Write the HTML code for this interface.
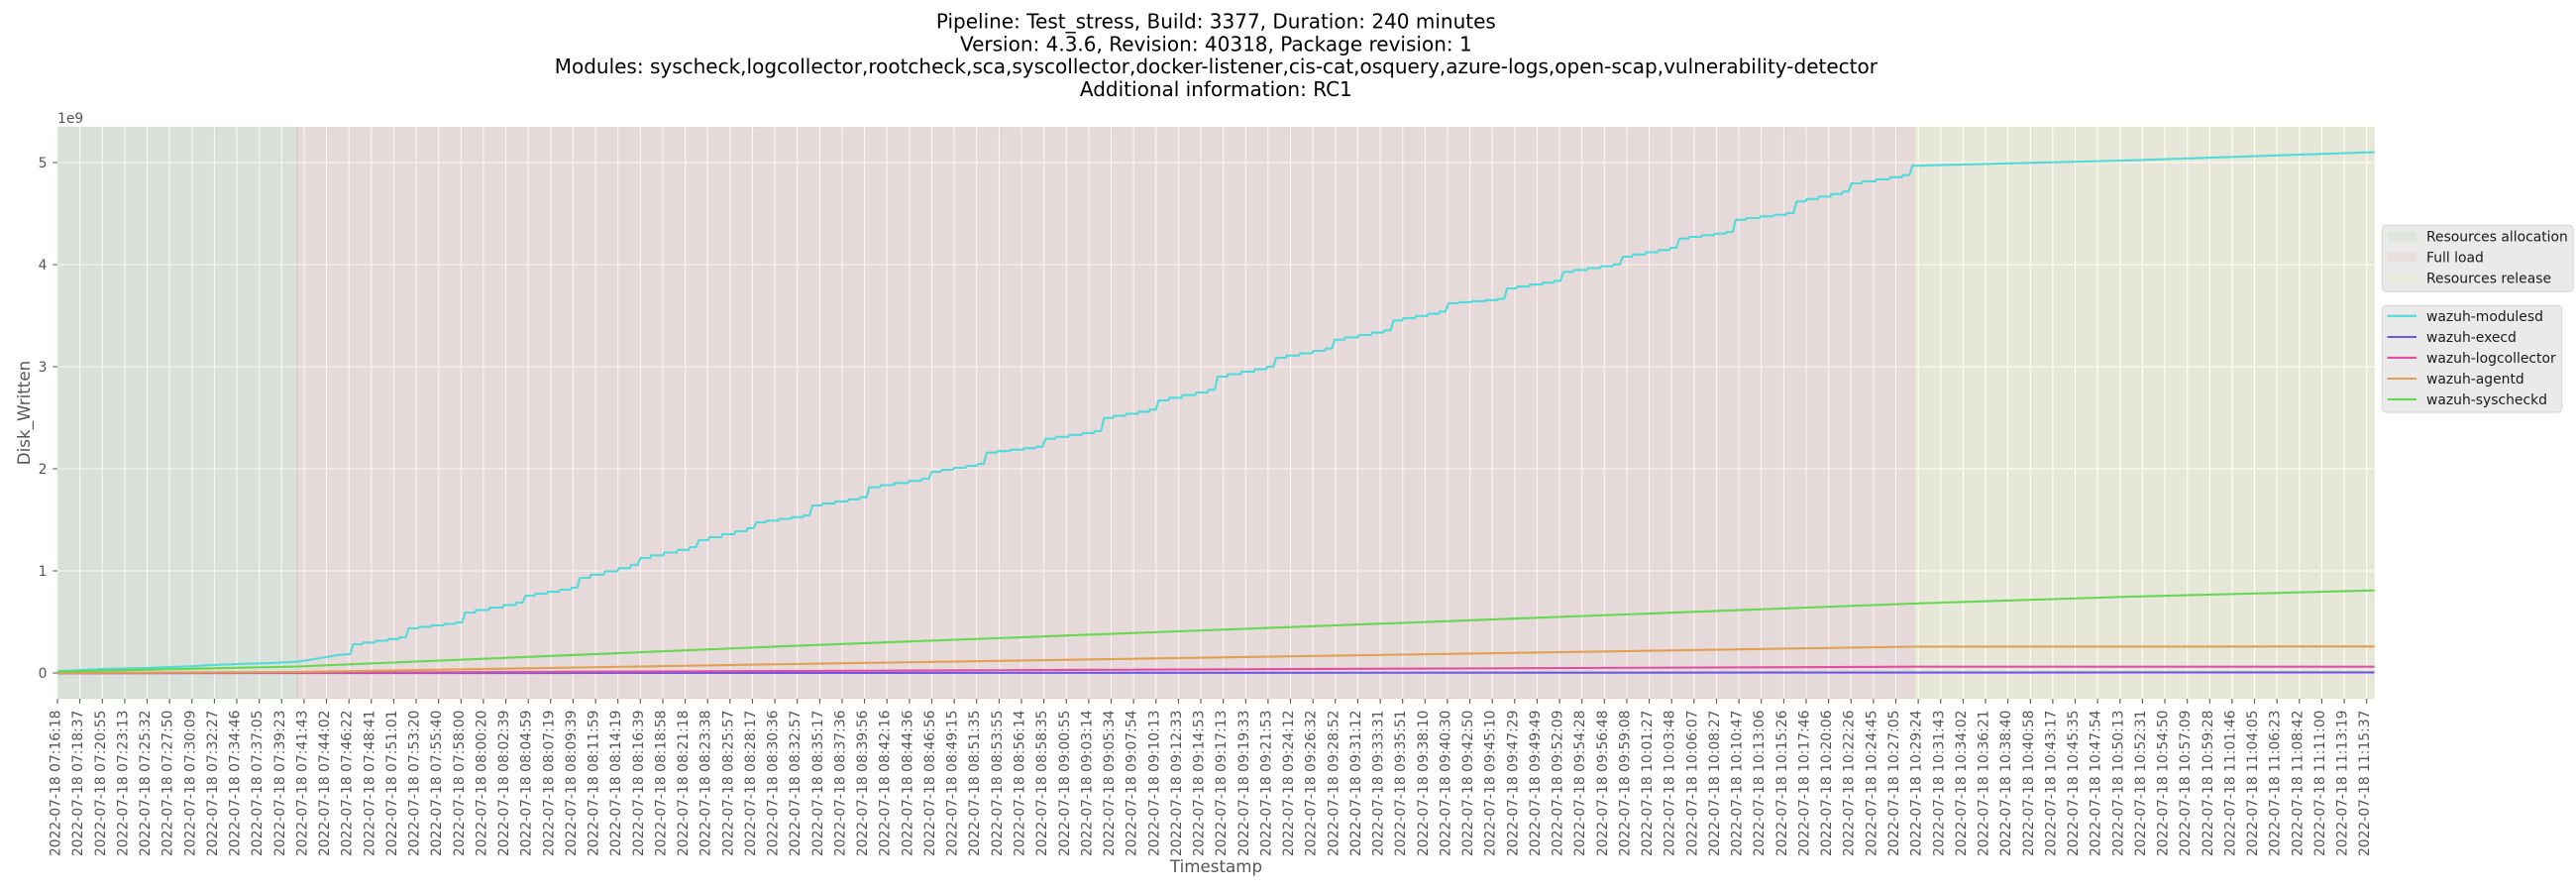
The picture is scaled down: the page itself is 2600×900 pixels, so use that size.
<!DOCTYPE html>
<html><head><meta charset="utf-8"><style>
html,body{margin:0;padding:0;background:#fff;}
svg{display:block;}
text{font-family:"DejaVu Sans","Liberation Sans",sans-serif;}
</style></head><body>
<svg width="2600" height="900" viewBox="0 0 2600 900" xmlns="http://www.w3.org/2000/svg">
<defs><clipPath id="pa"><rect x="58" y="128" width="2338.7" height="577"/></clipPath></defs>
<rect x="0" y="0" width="2600" height="900" fill="#fff"/>
<!-- title -->
<g font-size="20" fill="#000" text-anchor="middle">
<text x="1227.35" y="28.5">Pipeline: Test_stress, Build: 3377, Duration: 240 minutes</text>
<text x="1227.35" y="51.3">Version: 4.3.6, Revision: 40318, Package revision: 1</text>
<text x="1227.35" y="74.1">Modules: syscheck,logcollector,rootcheck,sca,syscollector,docker-listener,cis-cat,osquery,azure-logs,open-scap,vulnerability-detector</text>
<text x="1227.35" y="96.9">Additional information: RC1</text>
</g>
<!-- axes background -->
<rect x="58" y="128" width="2338.7" height="577" fill="#E5E5E5"/>
<!-- grid -->
<path stroke="#fff" stroke-width="1.1" fill="none" d="M58,128V705M80.6,128V705M103.3,128V705M125.9,128V705M148.5,128V705M171.1,128V705M193.8,128V705M216.4,128V705M239,128V705M261.7,128V705M284.3,128V705M306.9,128V705M329.5,128V705M352.2,128V705M374.8,128V705M397.4,128V705M420,128V705M442.7,128V705M465.3,128V705M487.9,128V705M510.6,128V705M533.2,128V705M555.8,128V705M578.4,128V705M601.1,128V705M623.7,128V705M646.3,128V705M669,128V705M691.6,128V705M714.2,128V705M736.8,128V705M759.5,128V705M782.1,128V705M804.7,128V705M827.4,128V705M850,128V705M872.6,128V705M895.2,128V705M917.9,128V705M940.5,128V705M963.1,128V705M985.7,128V705M1008.4,128V705M1031,128V705M1053.6,128V705M1076.3,128V705M1098.9,128V705M1121.5,128V705M1144.1,128V705M1166.8,128V705M1189.4,128V705M1212,128V705M1234.7,128V705M1257.3,128V705M1279.9,128V705M1302.5,128V705M1325.2,128V705M1347.8,128V705M1370.4,128V705M1393.1,128V705M1415.7,128V705M1438.3,128V705M1460.9,128V705M1483.6,128V705M1506.2,128V705M1528.8,128V705M1551.4,128V705M1574.1,128V705M1596.7,128V705M1619.3,128V705M1642,128V705M1664.6,128V705M1687.2,128V705M1709.8,128V705M1732.5,128V705M1755.1,128V705M1777.7,128V705M1800.4,128V705M1823,128V705M1845.6,128V705M1868.2,128V705M1890.9,128V705M1913.5,128V705M1936.1,128V705M1958.8,128V705M1981.4,128V705M2004,128V705M2026.6,128V705M2049.3,128V705M2071.9,128V705M2094.5,128V705M2117.1,128V705M2139.8,128V705M2162.4,128V705M2185,128V705M2207.7,128V705M2230.3,128V705M2252.9,128V705M2275.5,128V705M2298.2,128V705M2320.8,128V705M2343.4,128V705M2366.1,128V705M2388.7,128V705M58,679H2396.7M58,576H2396.7M58,473H2396.7M58,370H2396.7M58,267H2396.7M58,164H2396.7"/>
<!-- spans -->
<rect x="58" y="128" width="242.3" height="577" fill="#008000" fill-opacity="0.05" stroke="#008000" stroke-opacity="0.05" stroke-width="1"/>
<rect x="300.3" y="128" width="1631.4" height="577" fill="#FF0000" fill-opacity="0.05" stroke="#FF0000" stroke-opacity="0.05" stroke-width="1"/>
<rect x="1931.7" y="128" width="465" height="577" fill="#FFFF00" fill-opacity="0.05" stroke="#FFFF00" stroke-opacity="0.05" stroke-width="1"/>
<!-- series -->
<g clip-path="url(#pa)" fill="none" stroke-width="2.1" stroke-linejoin="round" stroke-linecap="butt">
<path id="mod" stroke="#50DADA" d="M58,677.3 L103,675 L146.7,674 L193,672.3 L213,671 L240,670 L273,669 L300,667.7 L313,665.7 L323,664 L335,662 L342,660.7 L353.5,660 L356.5,650 L409.5,643 L412.5,634 L466.5,628 L469.5,618 L527.5,608 L530.5,601 L582.5,593 L585.5,583 L643.5,570 L646.5,563 L702.5,552 L705.5,545 L760.5,533 L763.5,527 L817,520 L820,510 L874.5,501.7 L877.5,491.7 L937.5,483 L940.5,476 L993,468 L996,456.7 L1052.2,450.7 L1055.2,442.7 L1111.3,435 L1114.3,421.7 L1166.5,413.3 L1169.5,404 L1226,393.3 L1229,380 L1285.2,370 L1288.2,361 L1344.3,351.7 L1347.3,342.7 L1403.5,333.3 L1406.5,323.3 L1459,314.3 L1462,306 L1518.1,301.7 L1521.1,291 L1575.1,283.3 L1578.1,274.3 L1635,266.7 L1638,259 L1692,250 L1695,240.7 L1748.9,234 L1751.9,221.7 L1810.3,215 L1813.3,203.3 L1865.8,193.3 L1868.8,185 L1927.2,176.7 L1930.2,167.3 L2150,161.8 L2396.7,153.5"/>
<path stroke="#6C58E2" d="M58,679.2 L2396.7,678.4"/>
<path stroke="#E050A0" d="M58,679.2 L300,678.8 L800,677 L1930,672.7 L2396.7,672.7"/>
<path stroke="#E0A050" d="M58,679 L300,678 L800,670 L1930,652.5 L2396.7,652.3"/>
<path stroke="#64D850" d="M58,677.7 L300,672.5 L800,651.7 L1930,609 L2150,602 L2396.7,595.7"/>
</g>
<!-- y ticks -->
<path stroke="#555" stroke-width="1.1" d="M53.1,679H58M53.1,576H58M53.1,473H58M53.1,370H58M53.1,267H58M53.1,164H58"/>
<g font-size="13.9" fill="#555" text-anchor="end">
<text x="47.5" y="684">0</text>
<text x="47.5" y="581">1</text>
<text x="47.5" y="478">2</text>
<text x="47.5" y="375">3</text>
<text x="47.5" y="272">4</text>
<text x="47.5" y="169">5</text>
</g>
<text x="58" y="124" font-size="13.9" fill="#555">1e9</text>
<text transform="translate(30,416.5) rotate(-90)" font-size="16.7" fill="#555" text-anchor="middle">Disk_Written</text>
<text x="1227.5" y="880" font-size="16.7" fill="#555" text-anchor="middle">Timestamp</text>
<!-- x ticks -->
<path stroke="#555" stroke-width="1.1" d="M58,705V709.9M80.6,705V709.9M103.3,705V709.9M125.9,705V709.9M148.5,705V709.9M171.1,705V709.9M193.8,705V709.9M216.4,705V709.9M239,705V709.9M261.7,705V709.9M284.3,705V709.9M306.9,705V709.9M329.5,705V709.9M352.2,705V709.9M374.8,705V709.9M397.4,705V709.9M420,705V709.9M442.7,705V709.9M465.3,705V709.9M487.9,705V709.9M510.6,705V709.9M533.2,705V709.9M555.8,705V709.9M578.4,705V709.9M601.1,705V709.9M623.7,705V709.9M646.3,705V709.9M669,705V709.9M691.6,705V709.9M714.2,705V709.9M736.8,705V709.9M759.5,705V709.9M782.1,705V709.9M804.7,705V709.9M827.4,705V709.9M850,705V709.9M872.6,705V709.9M895.2,705V709.9M917.9,705V709.9M940.5,705V709.9M963.1,705V709.9M985.7,705V709.9M1008.4,705V709.9M1031,705V709.9M1053.6,705V709.9M1076.3,705V709.9M1098.9,705V709.9M1121.5,705V709.9M1144.1,705V709.9M1166.8,705V709.9M1189.4,705V709.9M1212,705V709.9M1234.7,705V709.9M1257.3,705V709.9M1279.9,705V709.9M1302.5,705V709.9M1325.2,705V709.9M1347.8,705V709.9M1370.4,705V709.9M1393.1,705V709.9M1415.7,705V709.9M1438.3,705V709.9M1460.9,705V709.9M1483.6,705V709.9M1506.2,705V709.9M1528.8,705V709.9M1551.4,705V709.9M1574.1,705V709.9M1596.7,705V709.9M1619.3,705V709.9M1642,705V709.9M1664.6,705V709.9M1687.2,705V709.9M1709.8,705V709.9M1732.5,705V709.9M1755.1,705V709.9M1777.7,705V709.9M1800.4,705V709.9M1823,705V709.9M1845.6,705V709.9M1868.2,705V709.9M1890.9,705V709.9M1913.5,705V709.9M1936.1,705V709.9M1958.8,705V709.9M1981.4,705V709.9M2004,705V709.9M2026.6,705V709.9M2049.3,705V709.9M2071.9,705V709.9M2094.5,705V709.9M2117.1,705V709.9M2139.8,705V709.9M2162.4,705V709.9M2185,705V709.9M2207.7,705V709.9M2230.3,705V709.9M2252.9,705V709.9M2275.5,705V709.9M2298.2,705V709.9M2320.8,705V709.9M2343.4,705V709.9M2366.1,705V709.9M2388.7,705V709.9"/>
<g font-size="13.9" fill="#555" text-anchor="end">
<text transform="translate(58,716.5) rotate(-90)" y="2.5">2022-07-18 07:16:18</text>
<text transform="translate(80.6,716.5) rotate(-90)" y="2.5">2022-07-18 07:18:37</text>
<text transform="translate(103.3,716.5) rotate(-90)" y="2.5">2022-07-18 07:20:55</text>
<text transform="translate(125.9,716.5) rotate(-90)" y="2.5">2022-07-18 07:23:13</text>
<text transform="translate(148.5,716.5) rotate(-90)" y="2.5">2022-07-18 07:25:32</text>
<text transform="translate(171.1,716.5) rotate(-90)" y="2.5">2022-07-18 07:27:50</text>
<text transform="translate(193.8,716.5) rotate(-90)" y="2.5">2022-07-18 07:30:09</text>
<text transform="translate(216.4,716.5) rotate(-90)" y="2.5">2022-07-18 07:32:27</text>
<text transform="translate(239,716.5) rotate(-90)" y="2.5">2022-07-18 07:34:46</text>
<text transform="translate(261.7,716.5) rotate(-90)" y="2.5">2022-07-18 07:37:05</text>
<text transform="translate(284.3,716.5) rotate(-90)" y="2.5">2022-07-18 07:39:23</text>
<text transform="translate(306.9,716.5) rotate(-90)" y="2.5">2022-07-18 07:41:43</text>
<text transform="translate(329.5,716.5) rotate(-90)" y="2.5">2022-07-18 07:44:02</text>
<text transform="translate(352.2,716.5) rotate(-90)" y="2.5">2022-07-18 07:46:22</text>
<text transform="translate(374.8,716.5) rotate(-90)" y="2.5">2022-07-18 07:48:41</text>
<text transform="translate(397.4,716.5) rotate(-90)" y="2.5">2022-07-18 07:51:01</text>
<text transform="translate(420,716.5) rotate(-90)" y="2.5">2022-07-18 07:53:20</text>
<text transform="translate(442.7,716.5) rotate(-90)" y="2.5">2022-07-18 07:55:40</text>
<text transform="translate(465.3,716.5) rotate(-90)" y="2.5">2022-07-18 07:58:00</text>
<text transform="translate(487.9,716.5) rotate(-90)" y="2.5">2022-07-18 08:00:20</text>
<text transform="translate(510.6,716.5) rotate(-90)" y="2.5">2022-07-18 08:02:39</text>
<text transform="translate(533.2,716.5) rotate(-90)" y="2.5">2022-07-18 08:04:59</text>
<text transform="translate(555.8,716.5) rotate(-90)" y="2.5">2022-07-18 08:07:19</text>
<text transform="translate(578.4,716.5) rotate(-90)" y="2.5">2022-07-18 08:09:39</text>
<text transform="translate(601.1,716.5) rotate(-90)" y="2.5">2022-07-18 08:11:59</text>
<text transform="translate(623.7,716.5) rotate(-90)" y="2.5">2022-07-18 08:14:19</text>
<text transform="translate(646.3,716.5) rotate(-90)" y="2.5">2022-07-18 08:16:39</text>
<text transform="translate(669,716.5) rotate(-90)" y="2.5">2022-07-18 08:18:58</text>
<text transform="translate(691.6,716.5) rotate(-90)" y="2.5">2022-07-18 08:21:18</text>
<text transform="translate(714.2,716.5) rotate(-90)" y="2.5">2022-07-18 08:23:38</text>
<text transform="translate(736.8,716.5) rotate(-90)" y="2.5">2022-07-18 08:25:57</text>
<text transform="translate(759.5,716.5) rotate(-90)" y="2.5">2022-07-18 08:28:17</text>
<text transform="translate(782.1,716.5) rotate(-90)" y="2.5">2022-07-18 08:30:36</text>
<text transform="translate(804.7,716.5) rotate(-90)" y="2.5">2022-07-18 08:32:57</text>
<text transform="translate(827.4,716.5) rotate(-90)" y="2.5">2022-07-18 08:35:17</text>
<text transform="translate(850,716.5) rotate(-90)" y="2.5">2022-07-18 08:37:36</text>
<text transform="translate(872.6,716.5) rotate(-90)" y="2.5">2022-07-18 08:39:56</text>
<text transform="translate(895.2,716.5) rotate(-90)" y="2.5">2022-07-18 08:42:16</text>
<text transform="translate(917.9,716.5) rotate(-90)" y="2.5">2022-07-18 08:44:36</text>
<text transform="translate(940.5,716.5) rotate(-90)" y="2.5">2022-07-18 08:46:56</text>
<text transform="translate(963.1,716.5) rotate(-90)" y="2.5">2022-07-18 08:49:15</text>
<text transform="translate(985.7,716.5) rotate(-90)" y="2.5">2022-07-18 08:51:35</text>
<text transform="translate(1008.4,716.5) rotate(-90)" y="2.5">2022-07-18 08:53:55</text>
<text transform="translate(1031,716.5) rotate(-90)" y="2.5">2022-07-18 08:56:14</text>
<text transform="translate(1053.6,716.5) rotate(-90)" y="2.5">2022-07-18 08:58:35</text>
<text transform="translate(1076.3,716.5) rotate(-90)" y="2.5">2022-07-18 09:00:55</text>
<text transform="translate(1098.9,716.5) rotate(-90)" y="2.5">2022-07-18 09:03:14</text>
<text transform="translate(1121.5,716.5) rotate(-90)" y="2.5">2022-07-18 09:05:34</text>
<text transform="translate(1144.1,716.5) rotate(-90)" y="2.5">2022-07-18 09:07:54</text>
<text transform="translate(1166.8,716.5) rotate(-90)" y="2.5">2022-07-18 09:10:13</text>
<text transform="translate(1189.4,716.5) rotate(-90)" y="2.5">2022-07-18 09:12:33</text>
<text transform="translate(1212,716.5) rotate(-90)" y="2.5">2022-07-18 09:14:53</text>
<text transform="translate(1234.7,716.5) rotate(-90)" y="2.5">2022-07-18 09:17:13</text>
<text transform="translate(1257.3,716.5) rotate(-90)" y="2.5">2022-07-18 09:19:33</text>
<text transform="translate(1279.9,716.5) rotate(-90)" y="2.5">2022-07-18 09:21:53</text>
<text transform="translate(1302.5,716.5) rotate(-90)" y="2.5">2022-07-18 09:24:12</text>
<text transform="translate(1325.2,716.5) rotate(-90)" y="2.5">2022-07-18 09:26:32</text>
<text transform="translate(1347.8,716.5) rotate(-90)" y="2.5">2022-07-18 09:28:52</text>
<text transform="translate(1370.4,716.5) rotate(-90)" y="2.5">2022-07-18 09:31:12</text>
<text transform="translate(1393.1,716.5) rotate(-90)" y="2.5">2022-07-18 09:33:31</text>
<text transform="translate(1415.7,716.5) rotate(-90)" y="2.5">2022-07-18 09:35:51</text>
<text transform="translate(1438.3,716.5) rotate(-90)" y="2.5">2022-07-18 09:38:10</text>
<text transform="translate(1460.9,716.5) rotate(-90)" y="2.5">2022-07-18 09:40:30</text>
<text transform="translate(1483.6,716.5) rotate(-90)" y="2.5">2022-07-18 09:42:50</text>
<text transform="translate(1506.2,716.5) rotate(-90)" y="2.5">2022-07-18 09:45:10</text>
<text transform="translate(1528.8,716.5) rotate(-90)" y="2.5">2022-07-18 09:47:29</text>
<text transform="translate(1551.4,716.5) rotate(-90)" y="2.5">2022-07-18 09:49:49</text>
<text transform="translate(1574.1,716.5) rotate(-90)" y="2.5">2022-07-18 09:52:09</text>
<text transform="translate(1596.7,716.5) rotate(-90)" y="2.5">2022-07-18 09:54:28</text>
<text transform="translate(1619.3,716.5) rotate(-90)" y="2.5">2022-07-18 09:56:48</text>
<text transform="translate(1642,716.5) rotate(-90)" y="2.5">2022-07-18 09:59:08</text>
<text transform="translate(1664.6,716.5) rotate(-90)" y="2.5">2022-07-18 10:01:27</text>
<text transform="translate(1687.2,716.5) rotate(-90)" y="2.5">2022-07-18 10:03:48</text>
<text transform="translate(1709.8,716.5) rotate(-90)" y="2.5">2022-07-18 10:06:07</text>
<text transform="translate(1732.5,716.5) rotate(-90)" y="2.5">2022-07-18 10:08:27</text>
<text transform="translate(1755.1,716.5) rotate(-90)" y="2.5">2022-07-18 10:10:47</text>
<text transform="translate(1777.7,716.5) rotate(-90)" y="2.5">2022-07-18 10:13:06</text>
<text transform="translate(1800.4,716.5) rotate(-90)" y="2.5">2022-07-18 10:15:26</text>
<text transform="translate(1823,716.5) rotate(-90)" y="2.5">2022-07-18 10:17:46</text>
<text transform="translate(1845.6,716.5) rotate(-90)" y="2.5">2022-07-18 10:20:06</text>
<text transform="translate(1868.2,716.5) rotate(-90)" y="2.5">2022-07-18 10:22:26</text>
<text transform="translate(1890.9,716.5) rotate(-90)" y="2.5">2022-07-18 10:24:45</text>
<text transform="translate(1913.5,716.5) rotate(-90)" y="2.5">2022-07-18 10:27:05</text>
<text transform="translate(1936.1,716.5) rotate(-90)" y="2.5">2022-07-18 10:29:24</text>
<text transform="translate(1958.8,716.5) rotate(-90)" y="2.5">2022-07-18 10:31:43</text>
<text transform="translate(1981.4,716.5) rotate(-90)" y="2.5">2022-07-18 10:34:02</text>
<text transform="translate(2004,716.5) rotate(-90)" y="2.5">2022-07-18 10:36:21</text>
<text transform="translate(2026.6,716.5) rotate(-90)" y="2.5">2022-07-18 10:38:40</text>
<text transform="translate(2049.3,716.5) rotate(-90)" y="2.5">2022-07-18 10:40:58</text>
<text transform="translate(2071.9,716.5) rotate(-90)" y="2.5">2022-07-18 10:43:17</text>
<text transform="translate(2094.5,716.5) rotate(-90)" y="2.5">2022-07-18 10:45:35</text>
<text transform="translate(2117.1,716.5) rotate(-90)" y="2.5">2022-07-18 10:47:54</text>
<text transform="translate(2139.8,716.5) rotate(-90)" y="2.5">2022-07-18 10:50:13</text>
<text transform="translate(2162.4,716.5) rotate(-90)" y="2.5">2022-07-18 10:52:31</text>
<text transform="translate(2185,716.5) rotate(-90)" y="2.5">2022-07-18 10:54:50</text>
<text transform="translate(2207.7,716.5) rotate(-90)" y="2.5">2022-07-18 10:57:09</text>
<text transform="translate(2230.3,716.5) rotate(-90)" y="2.5">2022-07-18 10:59:28</text>
<text transform="translate(2252.9,716.5) rotate(-90)" y="2.5">2022-07-18 11:01:46</text>
<text transform="translate(2275.5,716.5) rotate(-90)" y="2.5">2022-07-18 11:04:05</text>
<text transform="translate(2298.2,716.5) rotate(-90)" y="2.5">2022-07-18 11:06:23</text>
<text transform="translate(2320.8,716.5) rotate(-90)" y="2.5">2022-07-18 11:08:42</text>
<text transform="translate(2343.4,716.5) rotate(-90)" y="2.5">2022-07-18 11:11:00</text>
<text transform="translate(2366.1,716.5) rotate(-90)" y="2.5">2022-07-18 11:13:19</text>
<text transform="translate(2388.7,716.5) rotate(-90)" y="2.5">2022-07-18 11:15:37</text>
</g>
<!-- legend 1 -->
<rect x="2404.3" y="227.3" width="193" height="67" rx="4" fill="#EAEAEA" stroke="#D6D6D6" stroke-width="1"/>
<rect x="2410" y="233.6" width="29" height="9.7" fill="#008000" fill-opacity="0.05"/>
<rect x="2410" y="254.4" width="29" height="9.7" fill="#FF0000" fill-opacity="0.05"/>
<rect x="2410" y="275.6" width="29" height="9.7" fill="#FFFF00" fill-opacity="0.05"/>
<g font-size="13.9" fill="#1a1a1a">
<text x="2449" y="243.3">Resources allocation</text>
<text x="2449" y="264.3">Full load</text>
<text x="2449" y="285.5">Resources release</text>
</g>
<!-- legend 2 -->
<rect x="2404.3" y="308.3" width="181.4" height="107.7" rx="4" fill="#EAEAEA" stroke="#D6D6D6" stroke-width="1"/>
<g stroke-width="2.1" fill="none">
<path stroke="#50DADA" d="M2409.5,318.8H2439"/>
<path stroke="#6C58E2" d="M2409.5,340H2439"/>
<path stroke="#E050A0" d="M2409.5,360.9H2439"/>
<path stroke="#E0A050" d="M2409.5,382H2439"/>
<path stroke="#64D850" d="M2409.5,402.9H2439"/>
</g>
<g font-size="13.9" fill="#1a1a1a">
<text x="2449" y="323.8">wazuh-modulesd</text>
<text x="2449" y="345">wazuh-execd</text>
<text x="2449" y="365.9">wazuh-logcollector</text>
<text x="2449" y="387">wazuh-agentd</text>
<text x="2449" y="407.9">wazuh-syscheckd</text>
</g>
</svg>
<script>
(function(){
var J=[[355,660,650],[411,643,634],[468,628,618],[529,608,601],[584,593,583],[645,570,563],[704,552,545],[762,533,527],[818.5,520,510],[876,501.7,491.7],[939,483,476],[994.5,468,456.7],[1053.7,450.7,442.7],[1112.8,435,421.7],[1168,413.3,404],[1227.5,393.3,380],[1286.7,370,361],[1345.8,351.7,342.7],[1405,333.3,323.3],[1460.5,314.3,306],[1519.6,301.7,291],[1576.6,283.3,274.3],[1636.5,266.7,259],[1693.5,250,240.7],[1750.4,234,221.7],[1811.8,215,203.3],[1867.3,193.3,185],[1928.7,176.7,167.3]];
var d="M58,677.3 L103,675 L146.7,674 L193,672.3 L213,671 L240,670 L273,669 L300,667.7 L313,665.7 L323,664 L335,662 L342,660.7";
var fr=[0.18,0.42,0.66,0.88];
for(var k=0;k<J.length;k++){
 var x=J[k][0],pre=J[k][1],post=J[k][2];
 d+=" L"+(x-1.5).toFixed(1)+","+pre+" L"+(x+1.5).toFixed(1)+","+post;
 if(k<J.length-1){
  var nx=J[k+1][0],npre=J[k+1][1];
  var x0=x+1.5,x1=nx-1.5,r=(post-npre)/fr.length,y=post;
  for(var i=0;i<fr.length;i++){
   var sx=x0+(x1-x0)*fr[i];
   d+=" L"+(sx-0.6).toFixed(1)+","+y.toFixed(1);
   y-=r;
   d+=" L"+(sx+0.6).toFixed(1)+","+y.toFixed(1);
  }
 }
}
d+=" L2150,161.8 L2396.7,153.5";
document.getElementById("mod").setAttribute("d",d);
})();
</script>
</body></html>
